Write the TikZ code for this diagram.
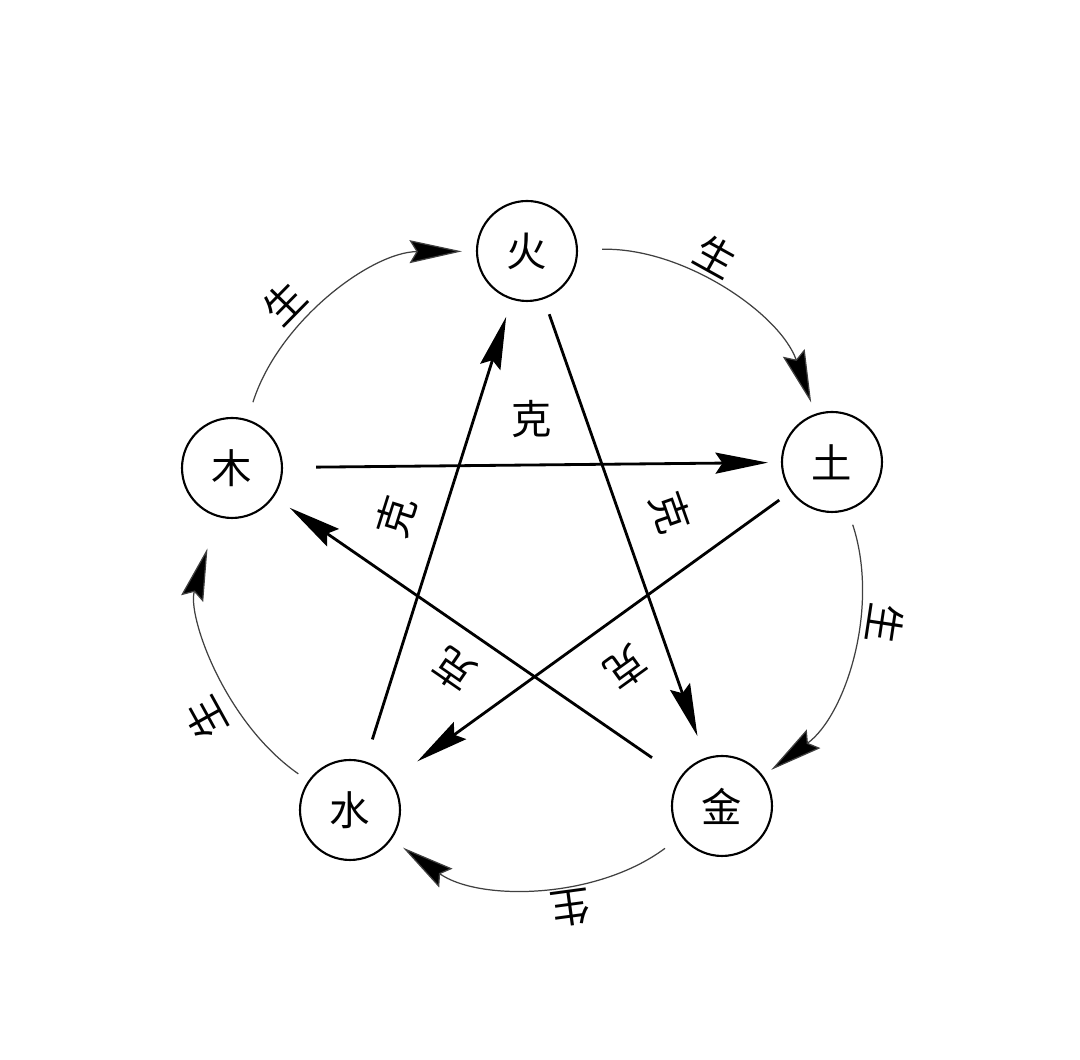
\documentclass[tikz,border=0pt]{standalone}
\usepackage{fontspec}
\newfontfamily\cjk{Noto Sans CJK SC}
\usetikzlibrary{arrows.meta}
\begin{document}
\begin{tikzpicture}[x=0.02cm,y=0.02cm,
  elem/.style={circle, draw, line width=1.2pt, minimum size=2cm, inner sep=0pt, font=\cjk\fontsize{23}{23}\selectfont},
  sheng/.style={line width=0.7pt, draw=black!75, -{Stealth[length=1.05cm,width=0.46cm,inset=0.14cm,fill=black]}, bend left=36, looseness=0.94},
  ke/.style={line width=1.6pt, -{Stealth[length=1.05cm,width=0.42cm,inset=0.14cm]}},
  lab/.style={font=\cjk\fontsize{23}{23}\selectfont, sloped, allow upside down, inner sep=0pt, anchor=center}
]
\useasboundingbox (0,0) rectangle (1080,1060);
\fill[white] (0,0) rectangle (1080,1060);
% elements
\node[elem] (huo)  at (527,809) {火};
\node[elem] (tu)   at (832,598) {土};
\node[elem] (jin)  at (722,254) {金};
\node[elem] (shui) at (350,250) {水};
\node[elem] (mu)   at (232,592) {木};
% generating cycle
\draw[sheng, shorten <=0.36cm, shorten >=0.28cm] (mu) to node[lab, pos=0.37, yshift=0.6cm] {生} (huo);
\draw[sheng, shorten <=0.48cm, shorten >=0.24cm] (huo) to node[lab, pos=0.42, yshift=0.55cm] {生} (tu);
\draw[sheng, shorten <=0.30cm, shorten >=0.20cm] (tu) to node[lab, pos=0.37, yshift=0.56cm] {生} (jin);
\draw[sheng, shorten <=0.40cm, shorten >=0.28cm] (jin) to node[lab, pos=0.40, yshift=0.52cm] {生} (shui);
\draw[sheng, shorten <=0.24cm, shorten >=0.66cm] (shui) to node[lab, pos=0.36, yshift=0.7cm] {生} (mu);
% controlling cycle
\draw[ke, shorten <=0.32cm, shorten >=0.46cm] (huo) -- node[lab, midway, yshift=0.98cm] {克} (jin);
\draw[ke, shorten <=0.68cm, shorten >=0.38cm] (jin) -- node[lab, midway, yshift=0.8cm] {克} (mu);
\draw[ke, shorten <=0.66cm, shorten >=0.26cm] (mu) -- node[lab, midway, yshift=0.92cm] {克} (tu);
\draw[ke, shorten <=0.28cm, shorten >=0.64cm] (tu) -- node[lab, pos=0.48, yshift=0.92cm] {克} (shui);
\draw[ke, shorten <=0.46cm, shorten >=0.36cm] (shui) -- node[lab, midway, yshift=0.9cm] {克} (huo);
\end{tikzpicture}
\end{document}
